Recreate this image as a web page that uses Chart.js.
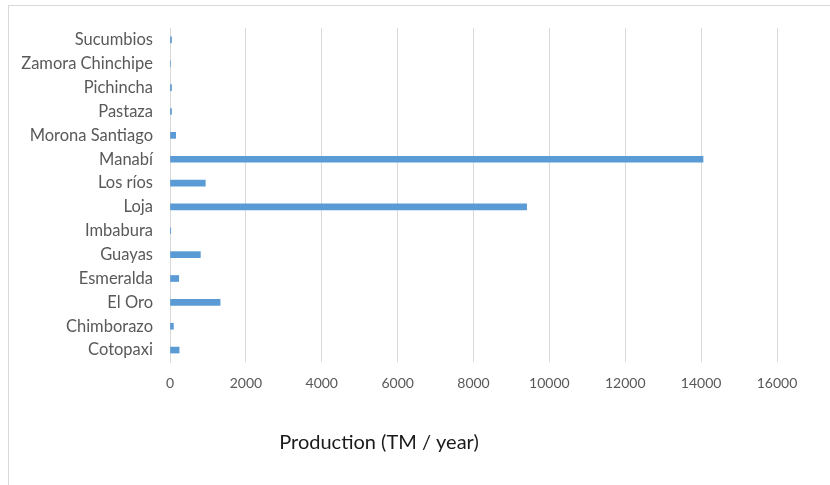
<!DOCTYPE html>
<html>
<head>
<meta charset="utf-8">
<script src="https://cdn.jsdelivr.net/npm/chart.js@4"></script>
<style>
  html, body { margin: 0; padding: 0; background: #ffffff; }
  #wrap { position: relative; width: 830px; height: 485px; }
</style>
</head>
<body>
<div id="wrap"><canvas id="c" width="830" height="485"></canvas></div>
<script>
const provinces = ["Sucumbios", "Zamora Chinchipe", "Pichincha", "Pastaza", "Morona Santiago", "Manabí", "Los ríos", "Loja", "Imbabura", "Guayas", "Esmeralda", "El Oro", "Chimborazo", "Cotopaxi"];
const production = [40, 12, 40, 40, 150, 14050, 930, 9400, 20, 800, 230, 1320, 90, 240];
const xTicks = [0, 2000, 4000, 6000, 8000, 10000, 12000, 14000, 16000];
const xTitle = "Production (TM / year)";

const FONT = "Lato, 'Liberation Sans', sans-serif";

const frame = {
  id: 'frame',
  beforeDraw(chart) {
    const ctx = chart.ctx;
    ctx.save();
    ctx.strokeStyle = '#d9d9d9';
    ctx.lineWidth = 1;
    ctx.strokeRect(8.5, 5.5, 1000, 1000);
    ctx.restore();
  },
  afterDraw(chart) {
    const ctx = chart.ctx;
    const a = chart.chartArea;
    ctx.save();
    ctx.fillStyle = '#1a1a1a';
    ctx.font = "20px " + FONT;
    ctx.textAlign = 'center';
    ctx.textBaseline = 'middle';
    ctx.fillText(xTitle, a.left + 209, a.bottom + 81);
    ctx.restore();
  }
};

new Chart(document.getElementById('c'), {
  type: 'bar',
  data: {
    labels: provinces,
    datasets: [{
      data: production,
      backgroundColor: '#5b9bd5',
      borderWidth: 0,
      barThickness: 6
    }]
  },
  options: {
    indexAxis: 'y',
    responsive: false,
    animation: false,
    devicePixelRatio: 1,
    layout: { padding: { left: 0, right: 53, top: 28, bottom: 0 } },
    plugins: { legend: { display: false }, tooltip: { enabled: false } },
    scales: {
      x: {
        min: 0,
        max: 16000,
        afterBuildTicks(scale) { scale.ticks = xTicks.map(v => ({ value: v })); },
        afterFit(scale) { scale.height = 123; },
        grid: { color: '#d9d9d9', drawTicks: false },
        border: { display: false },
        ticks: {
          color: '#595959', font: { family: FONT, size: 14 }, padding: 13, maxRotation: 0,
          callback: (v) => String(v)
        }
      },
      y: {
        afterFit(scale) { scale.width = 170; },
        grid: { display: false, drawTicks: false },
        border: { display: true, color: '#d9d9d9' },
        ticks: { color: '#595959', font: { family: FONT, size: 16.5 }, padding: 17, autoSkip: false }
      }
    }
  },
  plugins: [frame]
});
</script>
</body>
</html>
